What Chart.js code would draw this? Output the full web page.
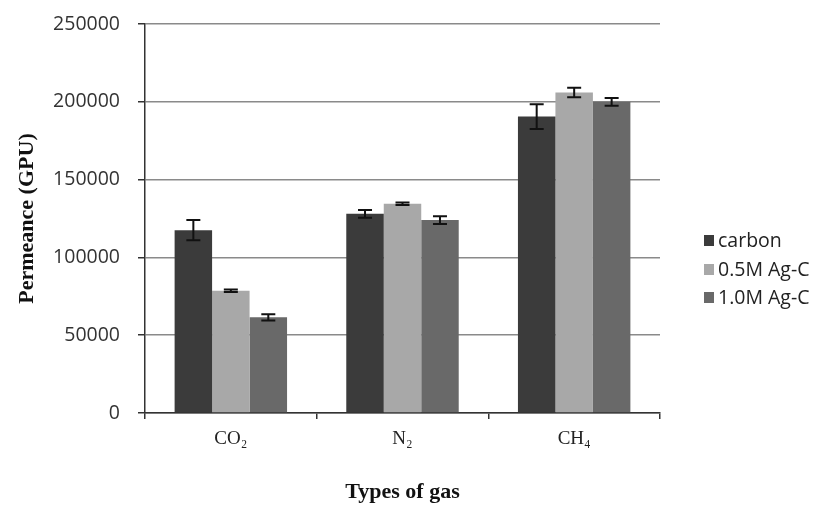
<!DOCTYPE html>
<html>
<head>
<meta charset="utf-8">
<script src="https://cdn.jsdelivr.net/npm/chart.js"></script>
<style>
  body { margin: 0; background: #fff; }
  #wrap { position: relative; width: 829px; height: 510px; }
  #legend { position: absolute; left: 704px; top: 226px; font-family: "Open Sans", "Liberation Sans", sans-serif; font-size: 19.5px; color: #222; }
  #legend div { height: 28.5px; line-height: 28.5px; white-space: nowrap; }
  #legend span { display: inline-block; width: 10px; height: 11px; margin-right: 4px; vertical-align: 1px; }
</style>
</head>
<body>
<div id="wrap">
  <canvas id="myChart" width="829" height="510"></canvas>
  <div id="legend"></div>
</div>
<script>
// data
var gases = ["CO\u2082", "N\u2082", "CH\u2084"];
var seriesNames = ["carbon", "0.5M Ag-C", "1.0M Ag-C"];
var carbon = [117500, 128000, 190500];
var agHalf = [78500, 134500, 206000];
var agOne = [61500, 124000, 200000];
var carbonErr = [6500, 2500, 8000];
var agHalfErr = [800, 800, 3000];
var agOneErr = [2000, 2500, 2500];
var yTicks = [0, 50000, 100000, 150000, 200000, 250000];

var colors = ["#3b3b3b", "#a8a8a8", "#696969"];
var values = [carbon, agHalf, agOne];
var errors = [carbonErr, agHalfErr, agOneErr];

// error bars drawn on top of the bars
var errorBars = {
  id: "errorBars",
  afterDatasetsDraw: function (chart) {
    var ctx = chart.ctx;
    var y = chart.scales.y;
    ctx.save();
    ctx.strokeStyle = "#111";
    ctx.lineWidth = 2;
    chart.data.datasets.forEach(function (ds, i) {
      var meta = chart.getDatasetMeta(i);
      meta.data.forEach(function (bar, j) {
        var v = ds.data[j], e = errors[i][j];
        var top = y.getPixelForValue(v + e);
        var bot = y.getPixelForValue(v - e);
        ctx.beginPath();
        ctx.moveTo(bar.x, top); ctx.lineTo(bar.x, bot);
        ctx.moveTo(bar.x - 7, top); ctx.lineTo(bar.x + 7, top);
        ctx.moveTo(bar.x - 7, bot); ctx.lineTo(bar.x + 7, bot);
        ctx.stroke();
      });
    });
    ctx.restore();
  }
};

var ctx = document.getElementById("myChart").getContext("2d");
var myChart = new Chart(ctx, {
  type: "bar",
  data: {
    labels: gases,
    datasets: seriesNames.map(function (name, i) {
      return {
        label: name,
        data: values[i],
        backgroundColor: colors[i],
        borderWidth: 0,
        categoryPercentage: 0.655,
        barPercentage: 1.0
      };
    })
  },
  options: {
    responsive: false,
    animation: false,
    layout: { padding: { top: 24, right: 169, bottom: 0, left: 0 } },
    plugins: {
      legend: { display: false },
      tooltip: { enabled: false }
    },
    scales: {
      x: {
        offset: true,
        grid: { offset: true, drawOnChartArea: false, color: "#333", tickLength: 6, lineWidth: 1.5 },
        border: { color: "#333", width: 1.5 },
        ticks: { color: "#222", font: { family: "Liberation Serif", size: 19 }, padding: 9 },
        title: { display: true, text: "Types of gas", color: "#111", font: { family: "Liberation Serif", size: 22, weight: "bold" }, padding: { top: 20 } },
        afterFit: function (s) { s.height = 97; s.paddingLeft = 0; s.paddingRight = 0; }
      },
      y: {
        min: 0,
        max: 250000,
        afterBuildTicks: function (s) { s.ticks = yTicks.map(function (v) { return { value: v }; }); },
        grid: { color: "#8a8a8a", lineWidth: 1.5, tickLength: 7, tickColor: "#333" },
        border: { color: "#333", width: 1.5 },
        ticks: {
          color: "#333", font: { family: "Open Sans", size: 19.5 }, padding: 18,
          callback: function (v) { return String(v); }
        },
        title: { display: true, text: "Permeance (GPU)", color: "#111", font: { family: "Liberation Serif", size: 22, weight: "bold" }, padding: { top: 14, bottom: 0 } },
        afterFit: function (s) { s.width = 145; s.paddingTop = 0; s.paddingBottom = 0; }
      }
    }
  },
  plugins: [errorBars]
});

// legend on the right, like the original
var legend = document.getElementById("legend");
seriesNames.forEach(function (name, i) {
  var row = document.createElement("div");
  var sw = document.createElement("span");
  sw.style.background = colors[i];
  row.appendChild(sw);
  row.appendChild(document.createTextNode(name));
  legend.appendChild(row);
});
</script>
</body>
</html>
